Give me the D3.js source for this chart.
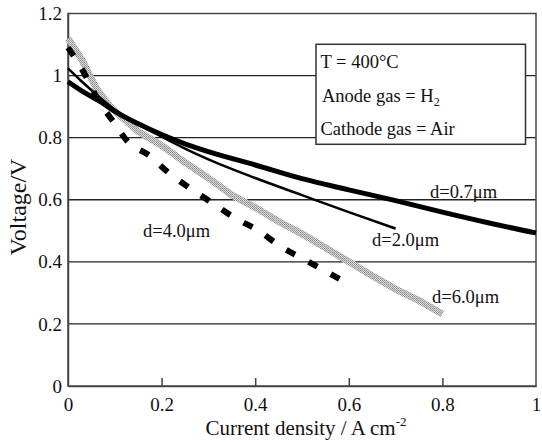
<!DOCTYPE html>
<html><head><meta charset="utf-8">
<script src="https://cdn.jsdelivr.net/npm/d3@7"></script>
<style>
html,body{margin:0;padding:0;background:#fff;}
svg{display:block;}
</style></head>
<body>
<svg id="chart" width="542" height="443"></svg>
<script>
// ---- data ----
const xTicks = [0, 0.2, 0.4, 0.6, 0.8, 1];
const yTicks = [0, 0.2, 0.4, 0.6, 0.8, 1, 1.2];
const xTickLabels = ["0", "0.2", "0.4", "0.6", "0.8", "1"];
const yTickLabels = ["0", "0.2", "0.4", "0.6", "0.8", "1", "1.2"];

const seriesNames = ["d=0.7μm", "d=2.0μm", "d=4.0μm", "d=6.0μm"];

const current07 = [0, 0.03, 0.07, 0.1, 0.15, 0.2, 0.25, 0.3, 0.4, 0.5, 0.6, 0.7, 0.8, 0.9, 1.0];
const voltage07 = [0.98, 0.95, 0.915, 0.885, 0.845, 0.81, 0.78, 0.755, 0.712, 0.668, 0.632, 0.597, 0.56, 0.525, 0.493];

const current20 = [0, 0.03, 0.06, 0.1, 0.15, 0.2, 0.25, 0.3, 0.4, 0.5, 0.6, 0.7];
const voltage20 = [1.023, 0.98, 0.94, 0.89, 0.845, 0.803, 0.765, 0.73, 0.67, 0.615, 0.56, 0.507];

const current40 = [0, 0.03, 0.065, 0.1, 0.126, 0.176, 0.208, 0.25, 0.3, 0.357, 0.404, 0.46, 0.507, 0.58];
const voltage40 = [1.09, 1.02, 0.92, 0.845, 0.79, 0.74, 0.696, 0.648, 0.598, 0.541, 0.503, 0.444, 0.406, 0.345];

const current60 = [0, 0.03, 0.06, 0.09, 0.12, 0.15, 0.2, 0.25, 0.3, 0.35, 0.4, 0.45, 0.5, 0.55, 0.6, 0.65, 0.7, 0.75, 0.8];
const voltage60 = [1.12, 1.05, 0.96, 0.9, 0.86, 0.82, 0.775, 0.72, 0.67, 0.615, 0.575, 0.53, 0.49, 0.445, 0.4, 0.355, 0.312, 0.275, 0.232];

const infoLines = ["T = 400°C", "Anode gas = H", "Cathode gas = Air"];

// ---- layout ----
const FONT = "'Liberation Serif'";
const svg = d3.select("#chart");
const L = 68, R = 536, T = 13.5, B = 386;
const x = d3.scaleLinear().domain([0, 1]).range([L, R]);
const y = d3.scaleLinear().domain([0, 1.2]).range([B, T]);

function txt(sel, size) {
  return sel.attr("font-family", null).style("font-family", FONT).style("font-size", size + "px").style("fill", "#111");
}

// stipple pattern for the gray series
const defs = svg.append("defs");
const pat = defs.append("pattern").attr("id", "stip").attr("patternUnits", "userSpaceOnUse")
  .attr("width", 2).attr("height", 2);
pat.append("rect").attr("width", 2).attr("height", 2).attr("fill", "#dadada");
pat.append("rect").attr("width", 1).attr("height", 1).attr("fill", "#8a8a8a");
pat.append("rect").attr("x", 1).attr("y", 1).attr("width", 1).attr("height", 1).attr("fill", "#a0a0a0");

// gridlines
svg.append("g").selectAll("line").data(yTicks.filter(d => d > 0 && d < 1.2)).join("line")
  .attr("x1", L).attr("x2", R).attr("y1", d => y(d)).attr("y2", d => y(d))
  .attr("stroke", "#222").attr("stroke-width", 1.3);

// frame
svg.append("rect").attr("x", L).attr("y", T).attr("width", R - L).attr("height", B - T)
  .attr("fill", "none").attr("stroke", "#444").attr("stroke-width", 1.5);

// x axis (ticks inward)
const xAxis = d3.axisBottom(x).tickValues(xTicks).tickFormat((d, i) => xTickLabels[i]).tickSizeInner(-8).tickSizeOuter(0).tickPadding(12);
const gx = svg.append("g").attr("transform", `translate(0,${B})`).call(xAxis).attr("font-family", null);
gx.select(".domain").attr("stroke", "#444").attr("stroke-width", 1.5);
gx.selectAll(".tick line").attr("stroke", "#444").attr("stroke-width", 1.5)
  .attr("display", d => (d === 0 || d === 1) ? "none" : null);
txt(gx.selectAll(".tick text"), 19);

// y axis
const yAxis = d3.axisLeft(y).tickValues(yTicks).tickFormat((d, i) => yTickLabels[i]).tickSize(0).tickPadding(6);
const gy = svg.append("g").attr("transform", `translate(${L},0)`).call(yAxis).attr("font-family", null);
gy.select(".domain").attr("stroke", "#444").attr("stroke-width", 1.5);
txt(gy.selectAll(".tick text"), 19);

// axis titles
const xt = txt(svg.append("text").attr("x", (L + R) / 2 + 4).attr("y", 435).attr("text-anchor", "middle"), 21);
xt.append("tspan").text("Current density / A cm");
xt.append("tspan").style("font-size", "13px").attr("dy", -9).text("-2");

txt(svg.append("text").attr("transform", "translate(26,207) rotate(-90)").attr("text-anchor", "middle"), 24)
  .text("Voltage/V");

// legend / info box
svg.append("rect").attr("x", 316).attr("y", 44.3).attr("width", 209.5).attr("height", 100)
  .attr("fill", "#fff").attr("stroke", "#333").attr("stroke-width", 1.5);
const infoY = [68, 102, 135];
infoLines.forEach((t, i) => {
  const tx = txt(svg.append("text").attr("x", i === 1 ? 322 : 320.5).attr("y", infoY[i]), 18.5).text(t);
  if (i === 1) tx.append("tspan").style("font-size", "12px").attr("dy", 4).text("2");
});

// lines
const pts = (xs, ys) => xs.map((v, i) => [v, ys[i]]);
const smooth = d3.line().x(d => x(d[0])).y(d => y(d[1])).curve(d3.curveMonotoneX);
const lin = d3.line().x(d => x(d[0])).y(d => y(d[1]));

svg.append("path").attr("d", lin(pts(current60, voltage60))).attr("fill", "none")
  .attr("stroke", "url(#stip)").attr("stroke-width", 7);
const dashPath = svg.append("path").attr("d", smooth(pts(current40, voltage40))).attr("fill", "none")
  .attr("stroke", "#000").attr("stroke-width", 6);
const len = dashPath.node().getTotalLength();
const dashLen = 10;
const nGaps = Math.round((len - dashLen) / 26);
const period = (len - dashLen) / nGaps;
dashPath.attr("stroke-dasharray", `${dashLen},${period - dashLen}`);
svg.append("path").attr("d", smooth(pts(current20, voltage20))).attr("fill", "none")
  .attr("stroke", "#000").attr("stroke-width", 2.5);
svg.append("path").attr("d", smooth(pts(current07, voltage07))).attr("fill", "none")
  .attr("stroke", "#000").attr("stroke-width", 5);

// series labels
const labelPos = [[430, 198], [372, 246], [143, 237], [432, 303]];
seriesNames.forEach((s, i) => {
  txt(svg.append("text").attr("x", labelPos[i][0]).attr("y", labelPos[i][1]), 18.5).text(s);
});
</script>
</body></html>
